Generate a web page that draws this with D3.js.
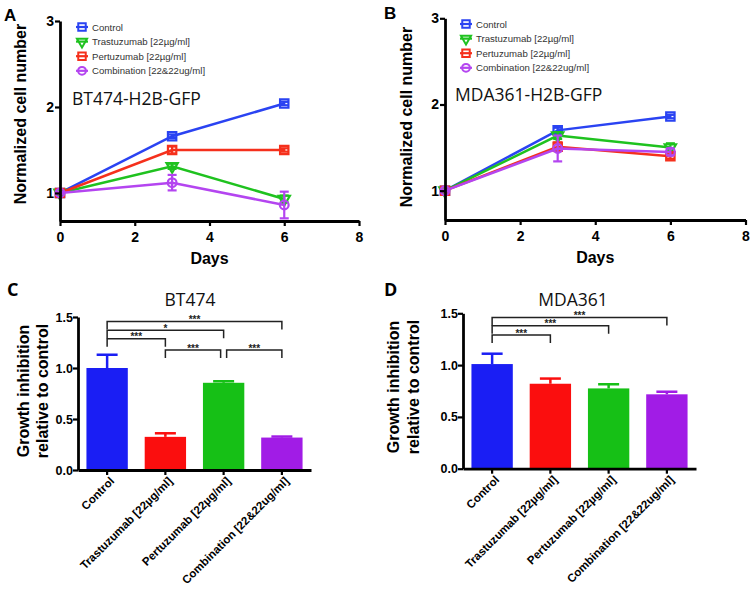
<!DOCTYPE html>
<html><head><meta charset="utf-8">
<script src="https://cdn.jsdelivr.net/npm/d3@7"></script>
<style>body{margin:0;background:#fff}</style>
</head><body>
<svg id="chart" width="754" height="589" xmlns="http://www.w3.org/2000/svg"></svg>
<script>
// ---------- DATA ----------
const days = [0, 3, 6];
const seriesNames = ["Control", "Trastuzumab [22µg/ml]", "Pertuzumab [22µg/ml]", "Combination [22&22ug/ml]"];
const barCategories = ["Control", "Trastuzumab [22µg/ml]", "Pertuzumab [22µg/ml]", "Combination [22&22ug/ml]"];
const xTicksDays = [0, 2, 4, 6, 8];
const yTicksCells = [1, 2, 3];
const yTicksGrowth = [0.0, 0.5, 1.0, 1.5];

// Panel A: BT474-H2B-GFP normalized cell number
const btControl = [1.00, 1.66, 2.04];
const btControlErr = [0.01, 0.02, 0.02];
const btTras = [1.00, 1.31, 0.93];
const btTrasErr = [0.01, 0.03, 0.04];
const btPert = [1.00, 1.50, 1.50];
const btPertErr = [0.01, 0.04, 0.02];
const btComb = [1.00, 1.12, 0.86];
const btCombErr = [0.01, 0.09, 0.155];

// Panel B: MDA361-H2B-GFP normalized cell number
const mdaControl = [1.00, 1.70, 1.86];
const mdaControlErr = [0.01, 0.03, 0.02];
const mdaTras = [1.00, 1.64, 1.50];
const mdaTrasErr = [0.01, 0.04, 0.05];
const mdaPert = [1.00, 1.51, 1.40];
const mdaPertErr = [0.01, 0.05, 0.03];
const mdaComb = [1.00, 1.49, 1.45];
const mdaCombErr = [0.01, 0.15, 0.04];

// Panel C: BT474 growth inhibition
const bt474Growth = [1.00, 0.325, 0.855, 0.318];
const bt474GrowthErr = [0.13, 0.035, 0.015, 0.01];
// significance brackets: [fromIndex, toIndex, height, label]
const bt474Sig = [[0, 3, 1.455, "***"], [0, 2, 1.37, "*"], [0, 1, 1.287, "***"], [1, 2, 1.176, "***"], [2, 3, 1.176, "***"]];

// Panel D: MDA361 growth inhibition
const mda361Growth = [1.01, 0.82, 0.775, 0.718];
const mda361GrowthErr = [0.10, 0.05, 0.04, 0.025];
const mda361Sig = [[0, 3, 1.46, "***"], [0, 2, 1.38, "***"], [0, 1, 1.29, "***"]];

// ---------- STYLE ----------
const lineColors = ["#2a43f2", "#1fc21f", "#f5301c", "#b445f0"];
const barColors = ["#1a1ef4", "#fb0e0e", "#16c016", "#a11ce6"];
const symbols = [d3.symbolSquare, d3.symbolTriangle, d3.symbolSquare, d3.symbolCircle];
const symbolSizes = [70, 55, 70, 60];
const symbolRot = [0, 180, 0, 0];
const AX = "Liberation Sans, Arial, sans-serif";
const CAL = "Open Sans, Noto Sans, sans-serif";

const svg = d3.select("#chart");

function styleAxis(g, width) {
  g.select(".domain").attr("stroke", "#000").attr("stroke-width", width);
  g.selectAll(".tick line").attr("stroke", "#000").attr("stroke-width", 2.2);
}

function linePanel(cfg) {
  const x = d3.scaleLinear().domain([0, 8]).range([cfg.x0, cfg.x1]);
  const y = d3.scaleLinear().domain([cfg.ymin, 3]).range([cfg.yb, cfg.yt]);
  const g = svg.append("g");

  const series = cfg.series;
  const line = d3.line().x((d, i) => x(days[i])).y(d => y(d));

  series.forEach((s, k) => {
    const col = lineColors[k];
    g.append("path").datum(s.v).attr("d", line).attr("fill", "none")
      .attr("stroke", col).attr("stroke-width", 2.5);
    s.v.forEach((v, i) => {
      const e = s.e[i];
      const cx = x(days[i]);
      g.append("line").attr("x1", cx).attr("x2", cx).attr("y1", y(v - e)).attr("y2", y(v + e))
        .attr("stroke", col).attr("stroke-width", 2.2);
      [v - e, v + e].forEach(t => g.append("line").attr("x1", cx - 4.5).attr("x2", cx + 4.5)
        .attr("y1", y(t)).attr("y2", y(t)).attr("stroke", col).attr("stroke-width", 2.2));
      g.append("path").attr("d", d3.symbol().type(symbols[k]).size(symbolSizes[k])())
        .attr("transform", `translate(${cx},${y(v)}) rotate(${symbolRot[k]})`)
        .attr("fill", "none").attr("stroke", col).attr("stroke-width", 2.2);
    });
  });

  const xa = g.append("g").attr("transform", `translate(0,${cfg.yb})`)
    .call(d3.axisBottom(x).tickValues(xTicksDays).tickSize(5).tickSizeOuter(0).tickFormat(d3.format("d")));
  styleAxis(xa, 2.8);
  xa.selectAll("text").attr("font-family", AX).attr("font-weight", "bold").attr("font-size", 14).attr("fill", "#000").attr("dy", "0.95em");
  const ya = g.append("g").attr("transform", `translate(${cfg.x0},0)`)
    .call(d3.axisLeft(y).tickValues(yTicksCells).tickSize(5).tickSizeOuter(0).tickFormat(d3.format("d")));
  styleAxis(ya, 2.8);
  ya.selectAll("text").attr("font-family", AX).attr("font-weight", "bold").attr("font-size", 14).attr("fill", "#000").attr("x", -6);

  g.append("text").attr("x", (x(0) + x(8)) / 2).attr("y", cfg.yb + 43).attr("text-anchor", "middle")
    .attr("font-family", AX).attr("font-weight", "bold").attr("font-size", 16).text("Days");
  g.append("text").attr("transform", `translate(${cfg.ylx},${cfg.yly}) rotate(-90)`).attr("text-anchor", "middle")
    .attr("font-family", AX).attr("font-weight", "bold").attr("font-size", 16).attr("dominant-baseline", "central")
    .text("Normalized cell number");

  seriesNames.forEach((n, k) => {
    const ly = cfg.legY + k * 14.6;
    const col = lineColors[k];
    g.append("line").attr("x1", cfg.legX - 6).attr("x2", cfg.legX + 6).attr("y1", ly).attr("y2", ly)
      .attr("stroke", col).attr("stroke-width", 2.2);
    g.append("path").attr("d", d3.symbol().type(symbols[k]).size(symbolSizes[k] * 0.8)())
      .attr("transform", `translate(${cfg.legX},${ly}) rotate(${symbolRot[k]})`)
      .attr("fill", "none").attr("stroke", col).attr("stroke-width", 2);
    g.append("text").attr("x", cfg.legX + 10).attr("y", ly).attr("dominant-baseline", "central")
      .attr("font-family", AX).attr("font-size", 9.6).attr("fill", "#333").text(n);
  });

  g.append("text").attr("x", cfg.labX).attr("y", cfg.labY).attr("font-family", CAL).attr("font-size", 17.5)
    .attr("fill", "#111").text(cfg.cellLabel);
  g.append("text").attr("x", cfg.pX).attr("y", cfg.pY).attr("font-family", AX).attr("font-weight", "bold")
    .attr("font-size", 17).text(cfg.panel);
}

function barPanel(cfg) {
  const x = d3.scaleBand().domain(barCategories).range([cfg.x0, cfg.x1]).paddingInner(0.29).paddingOuter(0.145);
  const y = d3.scaleLinear().domain([0, 1.5]).range([cfg.yb, cfg.yt]);
  const g = svg.append("g");

  cfg.vals.forEach((v, i) => {
    const cx = x(barCategories[i]) + x.bandwidth() / 2;
    const top = y(v + cfg.errs[i]);
    g.append("line").attr("x1", cx).attr("x2", cx).attr("y1", y(v)).attr("y2", top)
      .attr("stroke", barColors[i]).attr("stroke-width", 2.5);
    g.append("line").attr("x1", cx - 10.5).attr("x2", cx + 10.5).attr("y1", top).attr("y2", top)
      .attr("stroke", barColors[i]).attr("stroke-width", 2.5);
  });
  g.selectAll("rect.bar").data(cfg.vals).enter().append("rect")
    .attr("x", (d, i) => x(barCategories[i])).attr("width", x.bandwidth())
    .attr("y", d => y(d)).attr("height", d => y(0) - y(d))
    .attr("fill", (d, i) => barColors[i]);

  const xa = g.append("g").attr("transform", `translate(0,${cfg.yb})`)
    .call(d3.axisBottom(x).tickSize(5).tickSizeOuter(0));
  styleAxis(xa, 2.8);
  xa.selectAll("text").attr("font-family", AX).attr("font-weight", "bold").attr("font-size", 11.5).attr("fill", "#000")
    .attr("text-anchor", "end").attr("dy", null).attr("y", null)
    .attr("transform", "translate(5,9) rotate(-45)").attr("dominant-baseline", "central");
  const ya = g.append("g").attr("transform", `translate(${cfg.x0},0)`)
    .call(d3.axisLeft(y).tickValues(yTicksGrowth).tickSize(5).tickSizeOuter(0).tickFormat(d3.format(".1f")));
  styleAxis(ya, 2.8);
  ya.selectAll("text").attr("font-family", AX).attr("font-weight", "bold").attr("font-size", 12.5).attr("fill", "#000").attr("x", -5);

  cfg.sig.forEach(([a, b, h, lab]) => {
    let xa1 = x(barCategories[a]) + x.bandwidth() / 2;
    let xb1 = x(barCategories[b]) + x.bandwidth() / 2;
    const adj = cfg.sig.some(s => s[0] === b && Math.abs(s[2] - h) < 1e-6);
    const adjL = cfg.sig.some(s => s[1] === a && Math.abs(s[2] - h) < 1e-6);
    if (adj) xb1 -= 3;
    if (adjL) xa1 += 3;
    const yy = y(h), drop = 8;
    g.append("path").attr("d", `M${xa1},${yy + drop}V${yy}H${xb1}V${yy + drop}`)
      .attr("fill", "none").attr("stroke", "#222").attr("stroke-width", 1.5);
    g.append("text").attr("x", (xa1 + xb1) / 2).attr("y", yy + 1.5).attr("text-anchor", "middle")
      .attr("font-family", AX).attr("font-weight", "bold").attr("font-size", 10).attr("fill", "#222").text(lab);
  });

  g.append("text").attr("transform", `translate(${cfg.ylx1},${cfg.yly}) rotate(-90)`).attr("text-anchor", "middle")
    .attr("dominant-baseline", "central").attr("font-family", AX).attr("font-weight", "bold").attr("font-size", 16)
    .text("Growth inhibition");
  g.append("text").attr("transform", `translate(${cfg.ylx2},${cfg.yly}) rotate(-90)`).attr("text-anchor", "middle")
    .attr("dominant-baseline", "central").attr("font-family", AX).attr("font-weight", "bold").attr("font-size", 16)
    .text("relative to control");

  g.append("text").attr("x", cfg.tX).attr("y", cfg.tY).attr("text-anchor", "middle").attr("font-family", CAL)
    .attr("font-size", 17.5).attr("fill", "#111").text(cfg.title);
  g.append("text").attr("x", cfg.pX).attr("y", cfg.pY).attr("font-family", CAL).attr("font-weight", "bold")
    .attr("font-size", 18).text(cfg.panel);
}

linePanel({
  x0: 60, x1: 359, yb: 221, yt: 21, ymin: 0.674,
  series: [{v: btControl, e: btControlErr}, {v: btTras, e: btTrasErr}, {v: btPert, e: btPertErr}, {v: btComb, e: btCombErr}],
  ylx: 20, yly: 114, legX: 82, legY: 27, labX: 72, labY: 105, cellLabel: "BT474-H2B-GFP", panel: "A", pX: 4, pY: 21
});
linePanel({
  x0: 445, x1: 745.5, yb: 220, yt: 18.3, ymin: 0.66,
  series: [{v: mdaControl, e: mdaControlErr}, {v: mdaTras, e: mdaTrasErr}, {v: mdaPert, e: mdaPertErr}, {v: mdaComb, e: mdaCombErr}],
  ylx: 406, yly: 117, legX: 466, legY: 24, labX: 455, labY: 101, cellLabel: "MDA361-H2B-GFP", panel: "B", pX: 384, pY: 19
});
barPanel({
  x0: 78, x1: 311, yb: 470, yt: 317, vals: bt474Growth, errs: bt474GrowthErr, sig: bt474Sig,
  ylx1: 23, ylx2: 42, yly: 391, tX: 190, tY: 306, title: "BT474", panel: "C", pX: 7, pY: 296
});
barPanel({
  x0: 463, x1: 696, yb: 468.7, yt: 313.3, vals: mda361Growth, errs: mda361GrowthErr, sig: mda361Sig,
  ylx1: 393, ylx2: 413, yly: 387, tX: 573, tY: 306, title: "MDA361", panel: "D", pX: 384, pY: 296
});
</script>
</body></html>
